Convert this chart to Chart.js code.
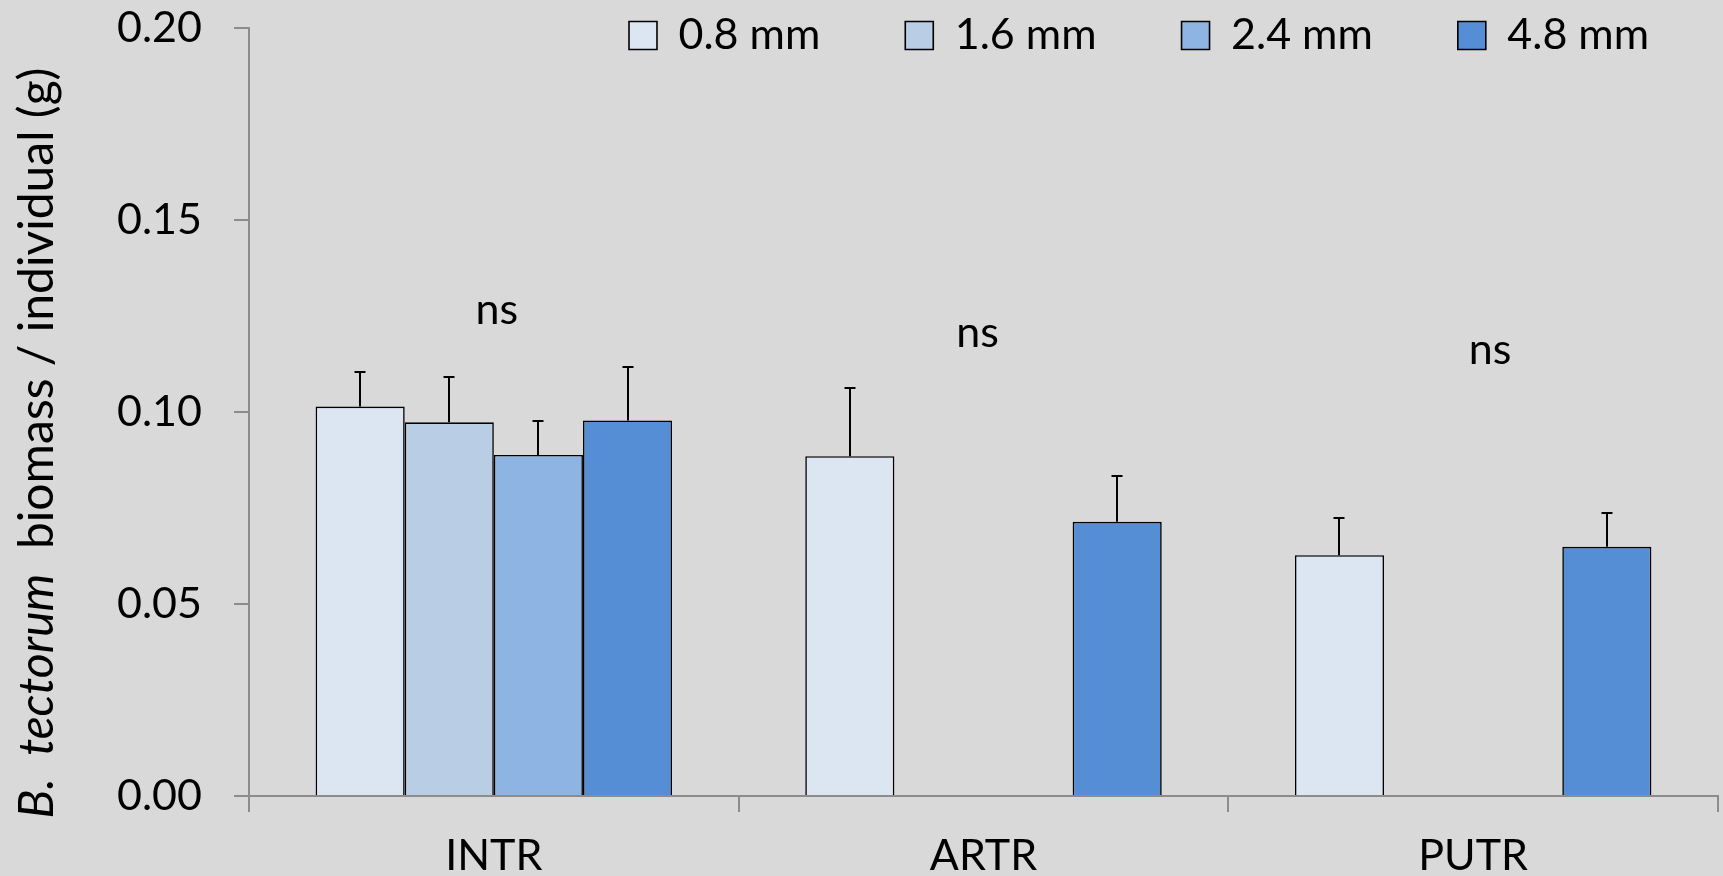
<!DOCTYPE html>
<html><head><meta charset="utf-8">
<script src="https://cdn.jsdelivr.net/npm/chart.js@4/dist/chart.umd.min.js"></script>
<style>html,body{margin:0;padding:0;background:#d9d9d9;overflow:hidden}canvas{display:block}</style>
</head><body>
<canvas id="c" width="1723" height="876"></canvas>
<script>
// ---- data ----
const categories = ['INTR', 'ARTR', 'PUTR'];
const seriesNames = ['0.8 mm', '1.6 mm', '2.4 mm', '4.8 mm'];
const mm08 = [0.1014, 0.0885, 0.0627];
const mm16 = [0.0973, null, null];
const mm24 = [0.0888, null, null];
const mm48 = [0.0978, 0.0714, 0.0649];
const err08 = [0.0091, 0.0177, 0.0097];
const err16 = [0.0119, null, null];
const err24 = [0.0089, null, null];
const err48 = [0.0140, 0.0120, 0.0088];
const yMin = 0, yMax = 0.20, yStep = 0.05;
const sigLabels = ['ns', 'ns', 'ns'];
const sigHeights = [0.1228, 0.1168, 0.1126];
const yTitleItalic = 'B.  tectorum';
const yTitleRest = '  biomass / individual (g)';

// ---- style ----
const FONT = 'Lato';
const FS = 43;
const TITLE_FS = 48;
const GRAY = '#8c8c8c';
const colors = ['#dce6f2', '#b9cde5', '#8eb4e3', '#558ed5'];

const bgPlugin = {
  id: 'bg',
  beforeDraw(chart) {
    const c = chart.ctx; c.save(); c.fillStyle = '#d9d9d9';
    c.fillRect(0, 0, chart.width, chart.height); c.restore();
  }
};

const legendPlace = {
  id: 'legendPlace',
  beforeLayout(chart) {
    const lg = chart.legend;
    if (lg && !lg._patched) {
      const orig = lg.fit;
      lg.fit = function () { orig.call(this); this.height = 0; };
      lg._patched = true;
    }
  },
  afterLayout(chart, args, opts) {
    const lg = chart.legend; const p = lg.options.labels.padding;
    lg.left = opts.x - p; lg.right = 2400; lg.top = opts.y - p; lg.bottom = 200;
  }
};

const errorBars = {
  id: 'errorBars',
  afterDatasetsDraw(chart, args, opts) {
    const ctx = chart.ctx; const ys = chart.scales.y;
    ctx.save(); ctx.strokeStyle = '#000'; ctx.lineWidth = opts.width;
    chart.data.datasets.forEach((ds, i) => {
      const meta = chart.getDatasetMeta(i);
      meta.data.forEach((bar, j) => {
        const v = ds.data[j], e = ds.errors[j];
        if (v == null || e == null) return;
        const x = Math.round(bar.x);
        const yTop = Math.round(ys.getPixelForValue(v + e));
        const yBar = ys.getPixelForValue(v);
        ctx.beginPath();
        ctx.moveTo(x, yBar); ctx.lineTo(x, yTop);
        ctx.moveTo(x - opts.cap, yTop); ctx.lineTo(x + opts.cap, yTop);
        ctx.stroke();
      });
    });
    ctx.restore();
  }
};

const sigPlugin = {
  id: 'sig',
  afterDatasetsDraw(chart, args, opts) {
    const ctx = chart.ctx; const xs = chart.scales.x, ys = chart.scales.y;
    ctx.save(); ctx.font = FS + 'px ' + FONT; ctx.fillStyle = '#000';
    ctx.textAlign = 'center'; ctx.textBaseline = 'alphabetic';
    sigLabels.forEach((t, i) => {
      ctx.fillText(t, xs.getPixelForValue(i) + opts.dx[i], ys.getPixelForValue(sigHeights[i]));
    });
    ctx.restore();
  }
};

const yTitle = {
  id: 'yTitle',
  afterDraw(chart, args, opts) {
    const ctx = chart.ctx;
    const parts = [{ t: yTitleItalic, f: 'italic ' + TITLE_FS + 'px ' + FONT }, { t: yTitleRest, f: TITLE_FS + 'px ' + FONT }];
    ctx.save(); ctx.translate(opts.x, opts.y); ctx.rotate(-Math.PI / 2);
    ctx.fillStyle = '#000'; ctx.textBaseline = 'alphabetic'; ctx.textAlign = 'left';
    let total = 0;
    parts.forEach(p => { ctx.font = p.f; p.w = ctx.measureText(p.t).width; total += p.w; });
    let x = -total / 2;
    parts.forEach(p => { ctx.font = p.f; ctx.fillText(p.t, x, 0); x += p.w; });
    ctx.restore();
  }
};

function build() {
  const seriesData = [mm08, mm16, mm24, mm48];
  const seriesErr = [err08, err16, err24, err48];
  const datasets = seriesNames.map((n, i) => ({
    label: n, data: seriesData[i], errors: seriesErr[i],
    backgroundColor: colors[i], borderColor: '#000', borderWidth: 1.6
  }));
  new Chart(document.getElementById('c'), {
    type: 'bar',
    data: { labels: categories, datasets },
    options: {
      responsive: false, animation: false, devicePixelRatio: 1,
      layout: { padding: { top: 28, right: 5, left: 0, bottom: 0 } },
      datasets: { bar: { categoryPercentage: 0.728, barPercentage: 1 } },
      plugins: {
        legend: {
          display: true, position: 'top', align: 'start',
          labels: { boxWidth: 28, boxHeight: 28, padding: 85, color: '#000', font: { family: FONT, size: FS } }
        },
        tooltip: { enabled: false },
        legendPlace: { x: 629, y: 14 },
        errorBars: { width: 2, cap: 5.5 },
        sig: { dx: [3, -6, 17] },
        yTitle: { x: 53, y: 443 }
      },
      scales: {
        x: {
          grid: { display: true, drawOnChartArea: false, drawTicks: true, tickLength: 16, color: GRAY, lineWidth: 2, offset: true },
          border: { display: true, color: GRAY, width: 2 },
          ticks: { color: '#000', font: { family: FONT, size: FS }, padding: 18, maxRotation: 0 },
          afterFit(s) { s.height = 80; s.paddingLeft = 0; s.paddingRight = 0; }
        },
        y: {
          min: yMin, max: yMax,
          ticks: { stepSize: yStep, callback: v => Number(v).toFixed(2), color: '#000', font: { family: FONT, size: FS }, padding: 32 },
          grid: { drawOnChartArea: false, drawTicks: true, tickLength: 15, color: GRAY, lineWidth: 2 },
          border: { display: true, color: GRAY, width: 2 },
          afterFit(s) { s.width = 249; s.paddingTop = 0; s.paddingBottom = 0; }
        }
      }
    },
    plugins: [bgPlugin, legendPlace, errorBars, sigPlugin, yTitle]
  });
}
Promise.race([
  Promise.all([document.fonts.load(FS + 'px ' + FONT), document.fonts.load('italic ' + FS + 'px ' + FONT)]),
  new Promise(r => setTimeout(r, 1500))
]).then(build, build);
</script>
</body></html>
